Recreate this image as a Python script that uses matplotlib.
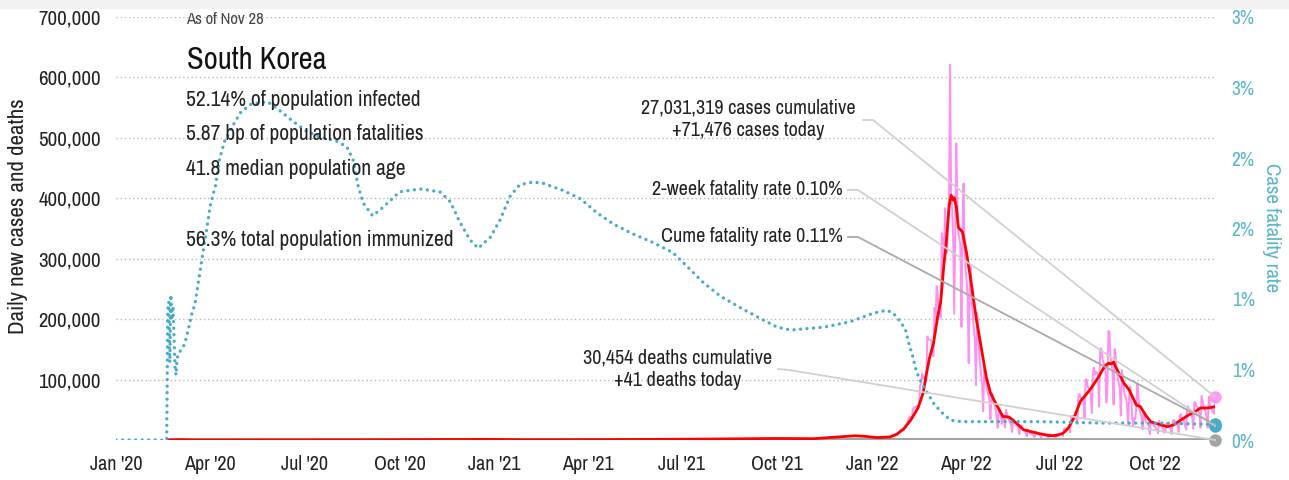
import matplotlib
matplotlib.use("Agg")
import matplotlib.pyplot as plt
import matplotlib.dates as mdates
from matplotlib.lines import Line2D
from matplotlib.patches import Rectangle
import pandas as pd

plt.rcParams['font.family'] = ['Archivo Narrow', 'DejaVu Sans']

# ---------------------------------------------------------------- data
# Daily new cases in 2022, thousands (one list per month)
cases_jan = [4.4, 3.8, 3.1, 4.1, 4.4, 4.1, 3.7, 3.5, 3.4, 3.0, 4.4, 4.5, 4.2, 4.5, 4.2, 4.2,
             3.9, 4.1, 5.8, 6.6, 6.8, 7.0, 7.6, 7.5, 8.6, 13.0, 14.5, 16.1, 17.5, 17.1, 18.0]
cases_feb = [20.3, 20.2, 22.9, 27.4, 36.3, 38.7, 35.3, 36.7, 49.6, 54.1, 53.9, 54.9, 56.4, 54.6,
             57.2, 90.4, 93.1, 109.8, 102.2, 104.8, 95.4, 99.6, 171.4, 166.2, 165.9, 166.2, 163.6, 139.6]
cases_mar = [138.9, 219.2, 198.8, 254.3, 243.6, 214.5, 210.7, 202.7, 342.4, 327.5, 282.9, 383.6,
             350.2, 309.8, 362.3, 400.7, 621.3, 407.0, 381.4, 334.7, 209.2, 354.0, 490.9, 395.6,
             339.5, 335.6, 318.1, 187.2, 347.5, 424.6, 320.7]
cases_apr = [280.2, 264.2, 234.3, 127.2, 266.1, 286.3, 224.8, 205.3, 185.5, 164.5, 90.9, 210.7,
             195.4, 148.4, 125.8, 107.9, 93.0, 47.7, 118.5, 111.3, 90.9, 81.0, 75.4, 64.7, 34.4,
             76.8, 76.5, 62.6, 57.4, 50.5]
cases_may = [37.8, 20.1, 51.1, 49.1, 42.3, 26.7, 40.0, 40.0, 20.6, 49.9, 43.9, 35.9, 32.4, 29.6,
             25.4, 13.3, 35.0, 28.1, 29.5, 23.9, 24.0, 19.3, 9.9, 23.9, 24.0, 19.3, 17.0, 16.6,
             13.3, 6.1, 17.2]
cases_jun = [14.0, 12.5, 9.9, 12.0, 9.8, 5.0, 6.2, 13.3, 12.0, 9.3, 8.4, 7.2, 3.8, 9.4, 9.4, 8.4,
             7.2, 6.8, 6.0, 3.5, 9.3, 9.5, 7.5, 7.2, 6.2, 6.0, 3.4, 9.9, 10.5, 9.6]
cases_jul = [10.7, 10.1, 10.0, 6.2, 18.1, 19.4, 18.5, 19.3, 20.4, 20.4, 12.7, 37.3, 40.2, 38.9,
             38.9, 41.3, 40.3, 26.3, 73.6, 76.4, 71.1, 68.6, 65.4, 65.4, 35.9, 99.3, 100.3, 88.3,
             85.3, 81.0, 73.6]
cases_aug = [44.7, 111.8, 119.9, 107.9, 112.9, 110.7, 105.5, 55.3, 149.9, 151.8, 137.2, 128.7,
             124.6, 119.6, 62.1, 84.1, 180.8, 178.6, 138.8, 128.7, 110.7, 59.0, 150.5, 139.3,
             113.4, 103.9, 93.0, 85.3, 40.7, 115.6, 103.9]
cases_sep = [81.5, 73.6, 70.3, 56.4, 24.7, 70.0, 88.6, 73.6, 36.9, 22.4, 36.2, 34.7, 57.3, 93.9,
             71.4, 51.9, 43.4, 39.1, 17.7, 46.0, 41.3, 30.8, 28.5, 26.9, 22.5, 9.9, 30.1, 30.1,
             26.5, 23.6]
cases_oct = [22.4, 18.8, 16.4, 11.0, 31.6, 23.5, 23.6, 20.7, 18.8, 12.1, 14.2, 27.7, 24.4, 22.9,
             22.3, 18.7, 9.8, 30.9, 33.2, 30.5, 29.8, 28.5, 22.9, 13.4, 40.2, 42.9, 35.9, 34.9,
             31.7, 23.8, 17.3]
cases_nov = [50.1, 55.8, 46.9, 46.7, 43.3, 36.7, 18.6, 62.3, 62.5, 55.4, 54.7, 48.5, 40.6, 20.5,
             72.9, 64.1, 55.3, 51.9, 47.0, 35.6, 20.3, 71.4, 59.0, 52.8, 50.6, 46.1, 43.6, 71.476]

# 7-day average of new cases, thousands
avg_dates = ["2020-02-20", "2020-03-01", "2020-03-20", "2020-08-28", "2020-12-25", "2021-02-01",
             "2021-04-20", "2021-07-28", "2021-09-28", "2021-11-05", "2021-12-15", "2021-12-25",
             "2022-01-05", "2022-01-18", "2022-01-25", "2022-01-31", "2022-02-07", "2022-02-14",
             "2022-02-19", "2022-02-22", "2022-02-25", "2022-03-01", "2022-03-05", "2022-03-08",
             "2022-03-11", "2022-03-13", "2022-03-16", "2022-03-18", "2022-03-20", "2022-03-21",
             "2022-03-23", "2022-03-25", "2022-03-29", "2022-04-02", "2022-04-06", "2022-04-11",
             "2022-04-16", "2022-04-21", "2022-04-25", "2022-04-30", "2022-05-07", "2022-05-13",
             "2022-05-20", "2022-05-27", "2022-06-10", "2022-06-22", "2022-06-29", "2022-07-04",
             "2022-07-09", "2022-07-15", "2022-07-21", "2022-07-31", "2022-08-07", "2022-08-13",
             "2022-08-17", "2022-08-20", "2022-08-22", "2022-08-24", "2022-08-27", "2022-09-01",
             "2022-09-06", "2022-09-13", "2022-09-17", "2022-09-22", "2022-09-27", "2022-10-07",
             "2022-10-13", "2022-10-19", "2022-10-26", "2022-11-02", "2022-11-08", "2022-11-14",
             "2022-11-21", "2022-11-28"]
avg_cases_k = [0.1, 0.6, 0.1, 0.3, 1.0, 0.4, 0.6, 1.6, 2.5, 2.2, 7.0, 6.0,
               4.0, 5.0, 10, 18, 33, 53, 78, 108, 135, 160, 204, 230,
               290, 320, 386, 405, 397, 401, 386, 352, 344, 309, 265, 204,
               154, 104, 78, 61, 39, 38, 28, 17, 11, 7, 8, 11,
               19, 38, 64, 85, 103, 121, 127, 126, 129, 121, 111, 94,
               83, 58, 55, 41, 30, 25, 22, 25, 33, 41, 46, 53,
               53, 55]

# Daily deaths (7-day average), thousands
death_dates = ["2020-02-20", "2022-03-25", "2022-11-28"]
deaths_k = [0.0, 0.35, 0.041]

# Case fatality rate, percent
cfr_dates = ["2020-01-01", "2020-02-19", "2020-02-20", "2020-02-21", "2020-02-22", "2020-02-23",
             "2020-02-24", "2020-02-25", "2020-02-26", "2020-02-27", "2020-02-28", "2020-02-29",
             "2020-03-01", "2020-03-02", "2020-03-04", "2020-03-06", "2020-03-08", "2020-03-10",
             "2020-03-12", "2020-03-15", "2020-03-17", "2020-03-20", "2020-03-24", "2020-03-29",
             "2020-04-01", "2020-04-06", "2020-04-10", "2020-04-15", "2020-04-23", "2020-04-30",
             "2020-05-10", "2020-05-26", "2020-06-05", "2020-06-20", "2020-07-03", "2020-07-16",
             "2020-08-01", "2020-08-11", "2020-08-17", "2020-08-22", "2020-08-27", "2020-09-05",
             "2020-09-15", "2020-10-01", "2020-10-21", "2020-11-09", "2020-11-19", "2020-11-28",
             "2020-12-08", "2020-12-16", "2020-12-28", "2021-01-06", "2021-01-16", "2021-01-25",
             "2021-02-07", "2021-02-17", "2021-03-08", "2021-03-25", "2021-04-10", "2021-04-26",
             "2021-05-15", "2021-06-03", "2021-06-22", "2021-07-06", "2021-07-21", "2021-08-07",
             "2021-08-26", "2021-09-15", "2021-10-01", "2021-10-14", "2021-11-15", "2021-12-11",
             "2022-01-02", "2022-01-15", "2022-01-21", "2022-01-28", "2022-02-02", "2022-02-05",
             "2022-02-09", "2022-02-12", "2022-02-15", "2022-02-20", "2022-02-25", "2022-03-02",
             "2022-03-11", "2022-03-18", "2022-03-28", "2022-04-16", "2022-06-13", "2022-08-10",
             "2022-10-07", "2022-11-28"]
cfr_pct = [0.0, 0.0, 0.92, 0.98, 0.55, 1.03,
           0.85, 0.95, 0.75, 0.52, 0.46, 0.58,
           0.60, 0.62, 0.64, 0.66, 0.70, 0.76,
           0.82, 0.92, 0.95, 1.09, 1.28, 1.51,
           1.66, 1.80, 1.99, 2.12, 2.23, 2.32,
           2.38, 2.40, 2.35, 2.26, 2.19, 2.15,
           2.12, 2.08, 1.99, 1.80, 1.68, 1.59,
           1.65, 1.76, 1.78, 1.76, 1.69, 1.55,
           1.42, 1.36, 1.44, 1.56, 1.73, 1.81,
           1.83, 1.82, 1.77, 1.71, 1.61, 1.53,
           1.46, 1.40, 1.33, 1.23, 1.12, 1.02,
           0.94, 0.86, 0.80, 0.78, 0.80, 0.84,
           0.90, 0.92, 0.90, 0.84, 0.78, 0.69,
           0.59, 0.50, 0.44, 0.37, 0.31, 0.25,
           0.18, 0.14, 0.13, 0.13, 0.13, 0.12,
           0.12, 0.11]

# Latest-day figures
last_day = "2022-11-28"
cases_cumulative = 27031319
cases_today = 71476
deaths_cumulative = 30454
deaths_today = 41
cfr_two_week = 0.10
cfr_cume = 0.11

info_lines = ["52.14% of population infected",
              "5.87 bp of population fatalities",
              "41.8 median population age",
              "56.3% total population immunized"]

y_ticks = [100000, 200000, 300000, 400000, 500000, 600000, 700000]
cfr_ticks = [0, 0.5, 1.0, 1.5, 2.0, 2.5, 3.0]
cfr_tick_labels = ["0%", "1%", "1%", "2%", "2%", "3%", "3%"]

# ---------------------------------------------------------------- style
PINK = "#ff90f0"
RED = "#ff0000"
TEAL = "#47adc6"
TEAL_TXT = "#5ab6cb"
GREY = "#a3a3a3"
TXT = "#222222"

W, H = 1289, 480
fig = plt.figure(figsize=(W / 100, H / 100), dpi=100)
fig.patches.append(Rectangle((0, 1 - 8 / H), 1, 8 / H, transform=fig.transFigure,
                             color="#f2f2f2", zorder=0))

ax = fig.add_axes([116 / W, 40 / H, (1215 - 116) / W, (440 - 17) / H])
ax2 = ax.twinx()

daily = cases_jan + cases_feb + cases_mar + cases_apr + cases_may + cases_jun + \
    cases_jul + cases_aug + cases_sep + cases_oct + cases_nov
daily_dates = pd.date_range("2022-01-01", periods=len(daily), freq="D")

ax.plot(daily_dates, [v * 1000 for v in daily], color=PINK, lw=1.4, zorder=2)
ax.plot(pd.to_datetime(death_dates), [v * 1000 for v in deaths_k], color=GREY, lw=2.6,
        zorder=3, solid_capstyle="butt")
ax.plot(pd.to_datetime(avg_dates), [v * 1000 for v in avg_cases_k], color=RED, lw=2.0,
        zorder=4)

ax2.plot(pd.to_datetime(cfr_dates), cfr_pct, color=TEAL, lw=2.4,
         linestyle=(0, (0.01, 1.95)), dash_capstyle="round", zorder=3)

x0, x1 = pd.Timestamp("2020-01-01"), pd.Timestamp(last_day)
ax.set_xlim(x0, x1)
ax.set_ylim(0, 700000)
ax2.set_ylim(0, 3)

# axes cosmetics
for a in (ax, ax2):
    for s in a.spines.values():
        s.set_visible(False)
ax.set_yticks(y_ticks)
ax.set_yticklabels([f"{v:,}" for v in y_ticks])
ax.tick_params(axis="y", length=0, pad=11, labelsize=15, labelcolor=TXT)
ax.yaxis.grid(True, linestyle=(0, (1, 2)), color="#b8b8b8", lw=1.0)
ax.set_axisbelow(True)

xt = pd.date_range("2020-01-01", "2022-10-01", freq="QS")
ax.set_xticks(xt)
ax.set_xticklabels([d.strftime("%b '%y") for d in xt])
ax.tick_params(axis="x", length=0, pad=11, labelsize=14.5, labelcolor=TXT)

ax2.set_yticks(cfr_ticks)
ax2.set_yticklabels(cfr_tick_labels)
ax2.tick_params(axis="y", length=0, pad=12, labelsize=14, labelcolor=TEAL_TXT)

fig.text(18 / W, 1 - 216 / H, "Daily new cases and deaths", rotation=90, ha="center",
         va="center", fontsize=16.5, color=TXT)
fig.text(1272 / W, 1 - 228 / H, "Case fatality rate", rotation=270, ha="center",
         va="center", fontsize=15, color=TEAL_TXT)


# title block
def ftxt(x, y, s, **kw):
    return fig.text(x / W, 1 - y / H, s, va="center", **kw)


ftxt(186, 19, "As of Nov 28", fontsize=12, color="#444444")
ftxt(187, 60, "South Korea", fontsize=22, color="#111111")
for yy, line in zip([100, 134, 169, 240], info_lines):
    ftxt(186, yy, line, fontsize=15.5, color=TXT)

# end-point markers
end = pd.Timestamp(last_day)
ax.plot([end], [cases_today], "o", ms=8, color="#ff9cf0", clip_on=False, zorder=10)
ax.plot([end], [deaths_today], "o", ms=8, color=GREY, clip_on=False, zorder=10)
ax2.plot([end], [cfr_two_week], "o", ms=8, color=TEAL, clip_on=False, zorder=10)
ax2.plot([end], [cfr_cume], "o", ms=8, color=TEAL, clip_on=False, zorder=10)

# callouts
ftxt(748, 108, f"{cases_cumulative:,} cases cumulative", ha="center", fontsize=14.5, color=TXT)
ftxt(748, 131, f"+{cases_today:,} cases today", ha="center", fontsize=14.5, color=TXT)
ftxt(843, 190, f"2-week fatality rate {cfr_two_week:.2f}%", ha="right", fontsize=14.5, color=TXT)
ftxt(843, 237, f"Cume fatality rate {cfr_cume:.2f}%", ha="right", fontsize=14.5, color=TXT)
ftxt(678, 358, f"{deaths_cumulative:,} deaths cumulative", ha="center", fontsize=14.5, color=TXT)
ftxt(678, 381, f"+{deaths_today} deaths today", ha="center", fontsize=14.5, color=TXT)

xnum = mdates.date2num(end)


def leader(p0, p1, axis, yval, color):
    ex, ey = fig.transFigure.inverted().transform(axis.transData.transform((xnum, yval)))
    xs = [p0[0] / W, p1[0] / W, ex]
    ys = [1 - p0[1] / H, 1 - p1[1] / H, ey]
    fig.lines.append(Line2D(xs, ys, transform=fig.transFigure, color=color, lw=1.3, zorder=8))


leader((863, 120), (873, 120), ax, cases_today, "#d0d0d0")
leader((848, 190), (858, 190), ax2, cfr_two_week, "#d0d0d0")
leader((848, 237), (858, 237), ax2, cfr_cume, "#aaaaaa")
leader((778, 369), (789, 370), ax, deaths_today, "#d0d0d0")

fig.savefig("out.png", dpi=100)
